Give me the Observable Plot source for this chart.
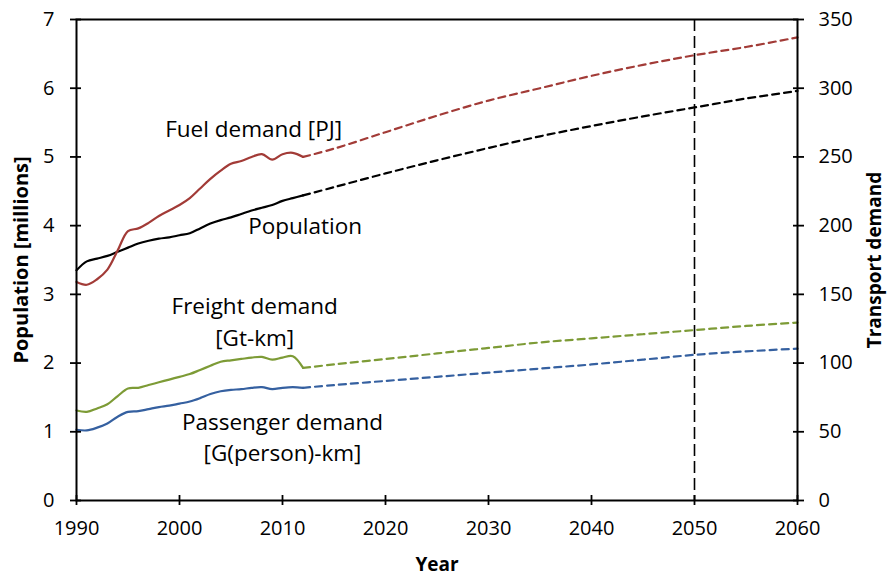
<!DOCTYPE html>
<html>
<head>
<meta charset="utf-8">
<script src="https://cdn.jsdelivr.net/npm/d3@7"></script>
<script src="https://cdn.jsdelivr.net/npm/@observablehq/plot@0.6"></script>
<style>
  html, body { margin: 0; padding: 0; background: #fff; }
  #chart { width: 887px; height: 576px; }
</style>
</head>
<body>
<div id="chart"></div>
<script>
// ---- Data ----
const histYears = d3.range(1990, 2013);
const populationHist = [3.35, 3.48, 3.52, 3.56, 3.62, 3.68, 3.74, 3.78, 3.81, 3.83, 3.86, 3.89, 3.96, 4.03, 4.08, 4.12, 4.17, 4.22, 4.26, 4.30, 4.36, 4.40, 4.44];
const fuelHist = [159, 157, 161, 168, 182, 196, 198, 202, 207, 211, 215, 220, 227, 234, 240, 245, 247, 250, 252, 248, 252, 253, 250];
const freightHist = [65.5, 64.5, 67, 70, 76, 81.5, 82, 84, 86, 88, 90, 92, 95, 98, 101, 102, 103, 104, 104.5, 102.5, 104, 105, 96.5];
const passengerHist = [51.5, 51, 53, 56, 61, 64.5, 65, 66.5, 68, 69, 70.5, 72, 74.5, 77.5, 79.5, 80.5, 81, 82, 82.5, 81, 82, 82.5, 82];

const projYears = [2012, 2015, 2020, 2025, 2030, 2035, 2040, 2045, 2050, 2055, 2060];
const populationProj = [4.44, 4.56, 4.76, 4.95, 5.13, 5.30, 5.45, 5.59, 5.72, 5.85, 5.96];
const fuelProj = [250, 256, 268, 280, 291, 300, 309, 317, 324, 330, 337];
const freightProj = [96.5, 99, 103, 107, 111, 115, 118, 121, 124, 127, 129.5];
const passengerProj = [82, 84, 87, 90, 93, 96, 99, 102.5, 106, 108.5, 110.5];

const xTicks = [1990, 2000, 2010, 2020, 2030, 2040, 2050, 2060];
const leftTicks = [0, 1, 2, 3, 4, 5, 6, 7];
const rightTickLabels = [0, 50, 100, 150, 200, 250, 300, 350];
const markerYear = [2050];

const seriesNames = ["Population", "Fuel demand", "Freight demand", "Passenger demand"];
const seriesAxis = {"Population": "left", "Fuel demand": "right", "Freight demand": "right", "Passenger demand": "right"};
const seriesColors = ["#000000", "#A23B37", "#7D9B36", "#3560A0"];

const labels = [
  {year: 2007.2, value: 5.43, text: "Fuel demand [PJ]"},
  {year: 2012.2, value: 4.03, text: "Population"},
  {year: 2007.3, value: 2.63, text: "Freight demand\n[Gt-km]"},
  {year: 2010.0, value: 0.95, text: "Passenger demand\n[G(person)-km]"}
];

// ---- Build rows ----
const ratio = 50; // right axis units per left axis unit
function rows(name, yrs, vals) {
  return yrs.map((yr, i) => ({series: name, year: yr, value: vals[i]}));
}
const hist = [
  ...rows("Population", histYears, populationHist),
  ...rows("Fuel demand", histYears, fuelHist),
  ...rows("Freight demand", histYears, freightHist),
  ...rows("Passenger demand", histYears, passengerHist)
];
const proj = [
  ...rows("Population", projYears, populationProj),
  ...rows("Fuel demand", projYears, fuelProj),
  ...rows("Freight demand", projYears, freightProj),
  ...rows("Passenger demand", projYears, passengerProj)
];
const yv = d => seriesAxis[d.series] === "right" ? d.value / ratio : d.value;

const font = "'Open Sans', sans-serif";
const blank = () => "";

const chart = Plot.plot({
  width: 887,
  height: 576,
  marginLeft: 76,
  marginRight: 90,
  marginTop: 19,
  marginBottom: 76,
  style: {fontFamily: font, fontSize: "20px", color: "#000", background: "#fff"},
  x: {domain: [1990, 2060]},
  y: {domain: [0, 7]},
  color: {domain: seriesNames, range: seriesColors},
  marks: [
    Plot.ruleX(markerYear, {x: d => d, stroke: "#000", strokeWidth: 1.6, strokeDasharray: "12,5"}),
    Plot.line(hist, {x: "year", y: yv, z: "series", stroke: "series", strokeWidth: 2.2, curve: "catmull-rom"}),
    Plot.line(proj, {x: "year", y: yv, z: "series", stroke: "series", strokeWidth: 2.2, strokeDasharray: "7,5", curve: "catmull-rom"}),
    Plot.text(labels, {x: "year", y: "value", text: "text", fontSize: 22.5, lineHeight: 1.4, fill: "#000"}),
    Plot.frame({stroke: "#000", strokeWidth: 2}),
    // tick marks: outward and inward
    Plot.axisX({ticks: xTicks, tickSize: 5, tickFormat: blank, label: null, strokeWidth: 1.8}),
    Plot.axisX({ticks: xTicks, tickSize: -5, tickFormat: blank, label: null, strokeWidth: 1.8}),
    Plot.axisY({anchor: "left", ticks: leftTicks, tickSize: 6, tickFormat: blank, label: null, strokeWidth: 1.8}),
    Plot.axisY({anchor: "left", ticks: leftTicks, tickSize: -5, tickFormat: blank, label: null, strokeWidth: 1.8}),
    Plot.axisY({anchor: "right", ticks: leftTicks, tickSize: 6, tickFormat: blank, label: null, strokeWidth: 1.8}),
    Plot.axisY({anchor: "right", ticks: leftTicks, tickSize: -5, tickFormat: blank, label: null, strokeWidth: 1.8}),
    // tick labels
    Plot.axisX({ticks: xTicks, tickSize: 0, tickPadding: 20, tickFormat: d => String(d), label: null}),
    Plot.axisY({anchor: "left", ticks: leftTicks, tickSize: 0, tickPadding: 22, tickFormat: d => String(d), label: null}),
    Plot.axisY({anchor: "right", ticks: leftTicks, tickSize: 0, tickPadding: 21, tickFormat: (d, i) => String(rightTickLabels[i]), label: null}),
    Plot.text(["Year"], {frameAnchor: "bottom", dy: 70, fontWeight: "bold", fontSize: 19, text: d => d}),
    Plot.text(["Population [millions]"], {frameAnchor: "left", dx: -55, rotate: -90, textAnchor: "middle", fontWeight: "bold", fontSize: 20, text: d => d}),
    Plot.text(["Transport demand"], {frameAnchor: "right", dx: 77, rotate: -90, textAnchor: "middle", fontWeight: "bold", fontSize: 19, text: d => d})
  ]
});
document.getElementById("chart").appendChild(chart);
</script>
</body>
</html>
